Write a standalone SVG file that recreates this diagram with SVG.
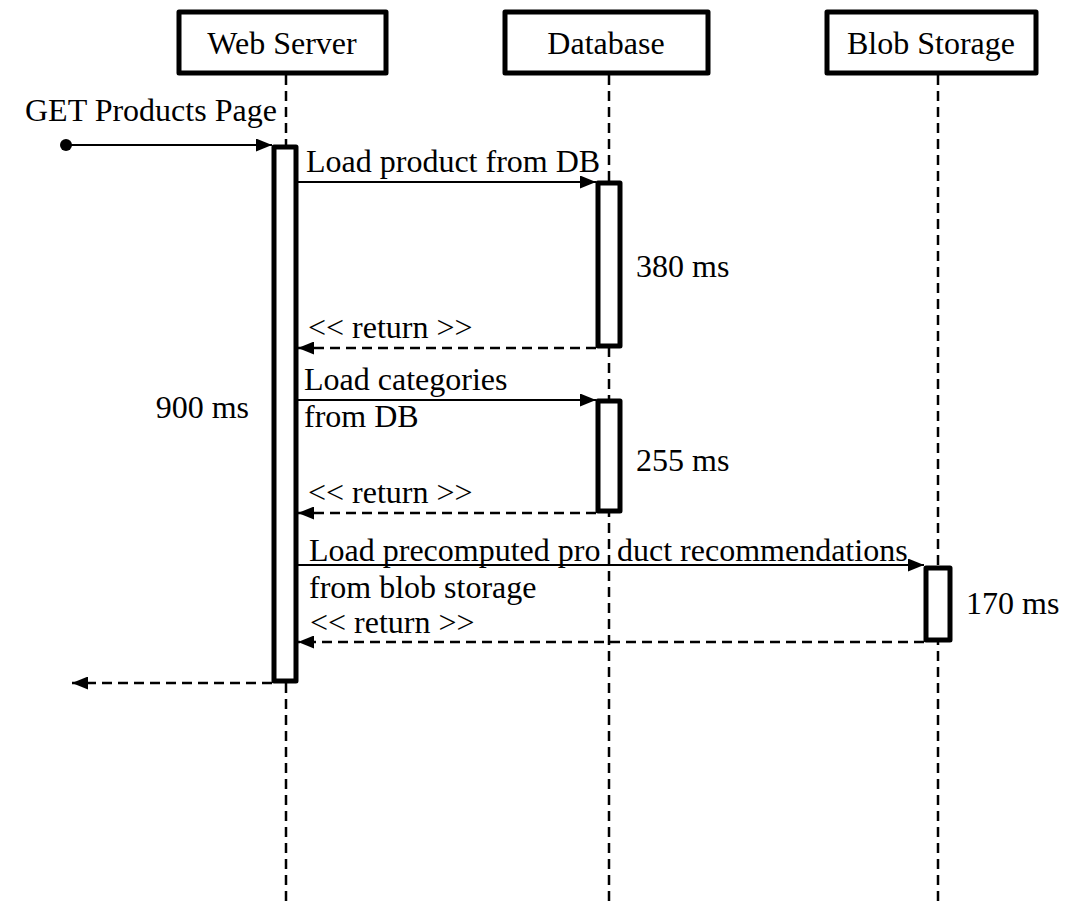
<svg xmlns="http://www.w3.org/2000/svg" width="1081" height="906" viewBox="0 0 1081 906">
  <defs>
    <style>
      .lbl { font-family: 'Liberation Serif', 'DejaVu Serif', serif; font-size: 32px; fill: #000; }
      .head { fill: #fff; stroke: #000; stroke-width: 5; stroke-linejoin: round; }
      .bar { fill: #fff; stroke: #000; stroke-width: 5; stroke-linejoin: round; }
      .life { stroke: #000; stroke-width: 2.5; stroke-dasharray: 10 6; fill: none; }
      .call { stroke: #000; stroke-width: 2; fill: none; marker-end: url(#arrow); }
      .ret { stroke: #000; stroke-width: 2.5; stroke-dasharray: 10 6; fill: none; marker-end: url(#arrow); }
    </style>
    <marker id="arrow" viewBox="0 0 16 13" refX="16" refY="6.5" markerWidth="16" markerHeight="13" markerUnits="userSpaceOnUse" orient="auto">
      <path d="M0,0 L16,6.5 L0,13 z" fill="#000"/>
    </marker>
  </defs>
  <rect width="1081" height="906" fill="#fff"/>

  <!-- lifelines -->
  <g id="lifelines">
    <line class="life" x1="286" y1="75" x2="286" y2="906"/>
    <line class="life" x1="609" y1="75" x2="609" y2="906"/>
    <line class="life" x1="938" y1="75" x2="938" y2="906"/>
  </g>

  <g font-family="Liberation Serif, DejaVu Serif, serif" font-size="32">
  <!-- participants -->
  <g id="web-server">
    <rect class="head" x="179" y="12" width="207" height="61"/>
    <text class="lbl" x="282" y="54" text-anchor="middle">Web Server</text>
  </g>
  <g id="database">
    <rect class="head" x="505" y="12" width="203" height="61"/>
    <text class="lbl" x="606" y="54" text-anchor="middle">Database</text>
  </g>
  <g id="blob-storage">
    <rect class="head" x="827" y="12" width="209" height="61"/>
    <text class="lbl" x="931" y="54" text-anchor="middle">Blob Storage</text>
  </g>

  <!-- activation bars -->
  <g id="web-activation">
    <rect class="bar" x="274" y="147" width="22" height="534"/>
    <text class="lbl" x="249" y="418" text-anchor="end">900 ms</text>
  </g>
  <g id="db-activation-1">
    <rect class="bar" x="598" y="183" width="22" height="163"/>
    <text class="lbl" x="636" y="277">380 ms</text>
  </g>
  <g id="db-activation-2">
    <rect class="bar" x="598" y="401" width="22" height="110"/>
    <text class="lbl" x="636" y="471">255 ms</text>
  </g>
  <g id="blob-activation">
    <rect class="bar" x="926" y="568" width="24" height="72"/>
    <text class="lbl" x="966" y="614">170 ms</text>
  </g>

  <!-- messages -->
  <g id="connectors">
    <circle cx="66" cy="145" r="6" fill="#000"/>
    <line class="call" x1="66" y1="145" x2="272" y2="145"/>
    <text class="lbl" x="25" y="121">GET Products Page</text>

    <line class="call" x1="298" y1="182" x2="596" y2="182"/>
    <text class="lbl" x="306" y="172">Load product from DB</text>

    <line class="ret" x1="596" y1="348" x2="298" y2="348"/>
    <text class="lbl" x="308" y="338">&lt;&lt; return &gt;&gt;</text>

    <line class="call" x1="298" y1="400" x2="596" y2="400"/>
    <text class="lbl" x="304" y="390">Load categories</text>
    <text class="lbl" x="304" y="427">from DB</text>

    <line class="ret" x1="596" y1="513" x2="298" y2="513"/>
    <text class="lbl" x="308" y="503">&lt;&lt; return &gt;&gt;</text>

    <line class="call" x1="298" y1="565" x2="924" y2="565"/>
    <text class="lbl" x="309" y="561">Load precomputed pro<tspan x="617">duct recommendations</tspan></text>
    <text class="lbl" x="309" y="598">from blob storage</text>

    <line class="ret" x1="924" y1="642" x2="298" y2="642"/>
    <text class="lbl" x="310" y="633">&lt;&lt; return &gt;&gt;</text>

    <line class="ret" x1="272" y1="683" x2="72" y2="683"/>
  </g>
  </g>
</svg>
